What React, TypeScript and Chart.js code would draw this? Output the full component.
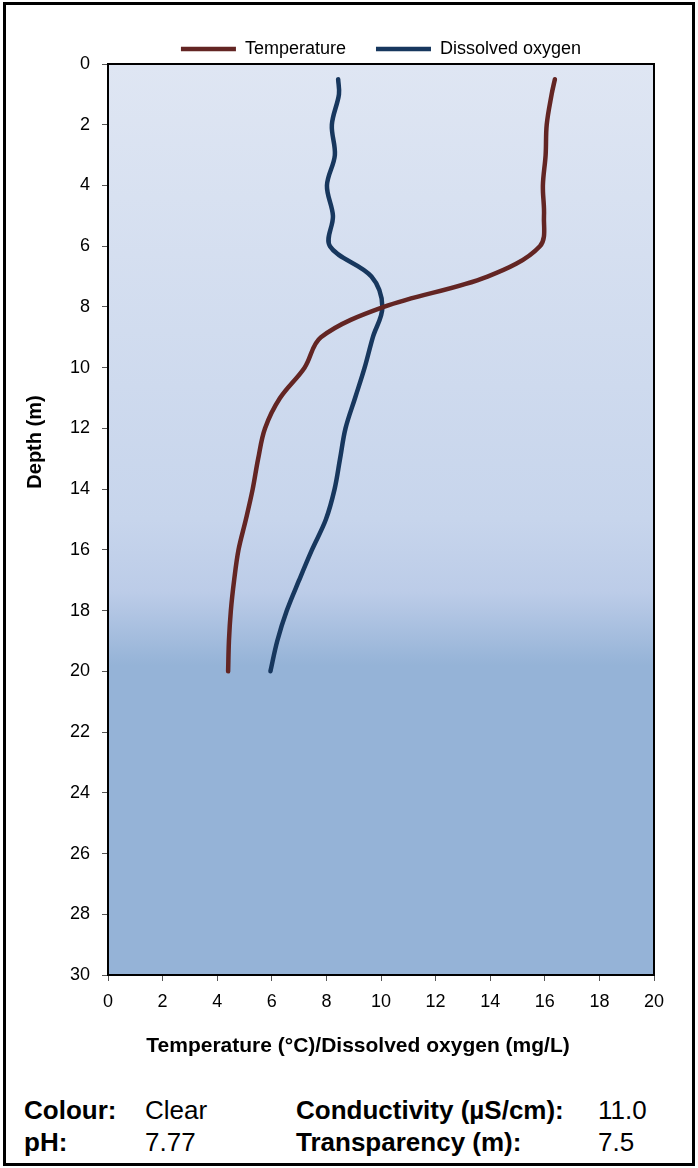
import React, { useEffect, useRef } from "react";
import { Chart, registerables } from "chart.js";

Chart.register(...registerables);

// ---------- data ----------
const depths = [0.5, 1, 2, 3, 4, 5, 6, 7, 8, 9, 10, 11, 12, 13, 14, 15, 16, 17, 18, 19, 20];
const temperature = [16.37, 16.25, 16.07, 16.03, 15.93, 15.97, 15.82, 13.9, 10.1, 7.8, 7.2, 6.3, 5.75, 5.5, 5.3, 5.05, 4.78, 4.62, 4.5, 4.43, 4.4];
const dissolvedOxygen = [8.43, 8.46, 8.2, 8.31, 8.02, 8.24, 8.13, 9.65, 10.05, 9.7, 9.4, 9.05, 8.7, 8.5, 8.3, 7.98, 7.47, 7.0, 6.55, 6.2, 5.95];
const seriesNames = ["Temperature", "Dissolved oxygen"];
const seriesColors = ["#632523", "#17375e"];
const xMin = 0;
const xMax = 20;
const xStep = 2;
const yMin = 0;
const yMax = 30;
const yStep = 2;
const xTitle = "Temperature (°C)/Dissolved oxygen (mg/L)";
const yTitle = "Depth (m)";
const infoLeftLabels = ["Colour:", "pH:"];
const infoLeftValues = ["Clear", "7.77"];
const infoRightLabels = ["Conductivity (µS/cm):", "Transparency (m):"];
const infoRightValues = ["11.0", "7.5"];

const FONT = "'Liberation Sans', Arial, Helvetica, sans-serif";
const CANVAS_W = 698;
const CANVAS_H = 1080;

const bgPlugin = {
  id: "plotBg",
  beforeDraw(chart: any) {
    const { ctx, chartArea } = chart;
    if (!chartArea) return;
    const { left, top, right, bottom } = chartArea;
    const g = ctx.createLinearGradient(0, top, 0, bottom);
    g.addColorStop(0, "#dfe6f3");
    g.addColorStop(0.5, "#c7d5ec");
    g.addColorStop(0.58, "#bccce8");
    g.addColorStop(0.66, "#95b3d7");
    g.addColorStop(1, "#95b3d7");
    ctx.save();
    ctx.fillStyle = g;
    ctx.fillRect(left, top, right - left, bottom - top);
    ctx.restore();
  },
};

const framePlugin = {
  id: "plotFrame",
  afterDraw(chart: any) {
    const { ctx, chartArea } = chart;
    const { left, top, right, bottom } = chartArea;
    ctx.save();
    ctx.strokeStyle = "#000";
    ctx.lineWidth = 2;
    ctx.strokeRect(left, top, right - left, bottom - top);
    ctx.restore();
  },
};

const titlesPlugin = {
  id: "axisTitles",
  afterDraw(chart: any) {
    const { ctx, chartArea } = chart;
    ctx.save();
    ctx.fillStyle = "#000";
    ctx.textAlign = "center";
    ctx.textBaseline = "middle";
    ctx.font = `bold 21px ${FONT}`;
    ctx.fillText(xTitle, (chartArea.left + chartArea.right) / 2 - 23, 1046);
    ctx.translate(35, 442);
    ctx.rotate(-Math.PI / 2);
    ctx.font = `bold 20px ${FONT}`;
    ctx.fillText(yTitle, 0, 0);
    ctx.restore();
  },
};

export default function App() {
  const ref = useRef<HTMLCanvasElement | null>(null);

  useEffect(() => {
    if (!ref.current) return;
    const series = [temperature, dissolvedOxygen];
    const chart = new Chart(ref.current, {
      type: "scatter",
      data: {
        datasets: series.map((vals, i) => ({
          label: seriesNames[i],
          data: depths.map((d, j) => ({ x: vals[j], y: d })),
          showLine: true,
          borderColor: seriesColors[i],
          backgroundColor: seriesColors[i],
          borderWidth: 4.5,
          borderCapStyle: "round",
          borderJoinStyle: "round",
          pointRadius: 0,
          pointHoverRadius: 0,
          tension: 0.35,
          fill: false,
        })),
      },
      options: {
        animation: false,
        responsive: false,
        maintainAspectRatio: false,
        layout: { padding: { left: 0, right: 44, top: 10, bottom: 0 } },
        plugins: {
          legend: {
            display: true,
            position: "top",
            fullSize: false,
            maxHeight: 54,
            labels: {
              usePointStyle: true,
              pointStyle: "line",
              pointStyleWidth: 55,
              padding: 30,
              color: "#000",
              font: { family: FONT, size: 18 },
            },
          },
          tooltip: { enabled: false },
        },
        scales: {
          x: {
            type: "linear",
            min: xMin,
            max: xMax,
            ticks: {
              stepSize: xStep,
              padding: 10,
              color: "#000",
              font: { family: FONT, size: 18 },
            },
            grid: { drawOnChartArea: false, drawTicks: true, tickLength: 6, color: "#555" },
            border: { display: false },
            afterFit: (s: any) => {
              s.height = CANVAS_H - 975;
            },
          },
          y: {
            type: "linear",
            reverse: true,
            min: yMin,
            max: yMax,
            ticks: {
              stepSize: yStep,
              padding: 12,
              color: "#000",
              font: { family: FONT, size: 18 },
            },
            grid: { drawOnChartArea: false, drawTicks: true, tickLength: 6, color: "#555" },
            border: { display: false },
            afterFit: (s: any) => {
              s.width = 108;
            },
          },
        },
      },
      plugins: [bgPlugin, framePlugin, titlesPlugin],
    } as any);
    return () => chart.destroy();
  }, []);

  const textBase: React.CSSProperties = {
    position: "absolute",
    fontFamily: FONT,
    fontSize: 26,
    lineHeight: "32px",
    color: "#000",
    whiteSpace: "nowrap",
  };

  return (
    <div style={{ position: "absolute", left: 0, top: 0, width: 698, height: 1168, background: "#fff", overflow: "hidden" }}>
      <canvas ref={ref} width={CANVAS_W} height={CANVAS_H} style={{ position: "absolute", left: 0, top: 0, width: CANVAS_W, height: CANVAS_H }} />
      {infoLeftLabels.map((t, i) => (
        <div key={"ll" + i} style={{ ...textBase, left: 24, top: 1094 + i * 32, fontWeight: "bold" }}>{t}</div>
      ))}
      {infoLeftValues.map((t, i) => (
        <div key={"lv" + i} style={{ ...textBase, left: 145, top: 1094 + i * 32 }}>{t}</div>
      ))}
      {infoRightLabels.map((t, i) => (
        <div key={"rl" + i} style={{ ...textBase, left: 296, top: 1094 + i * 32, fontWeight: "bold" }}>{t}</div>
      ))}
      {infoRightValues.map((t, i) => (
        <div key={"rv" + i} style={{ ...textBase, left: 598, top: 1094 + i * 32 }}>{t}</div>
      ))}
      <div style={{ position: "absolute", left: 3, top: 2, width: 692, height: 1164, boxSizing: "border-box", border: "3px solid #000", pointerEvents: "none" }} />
    </div>
  );
}
